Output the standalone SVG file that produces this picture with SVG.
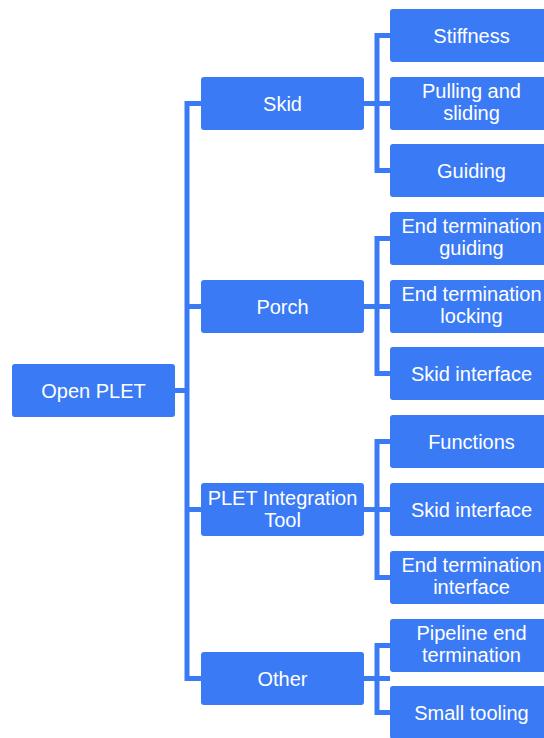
<svg xmlns="http://www.w3.org/2000/svg" width="544" height="738" viewBox="0 0 544 738">
  <style>
    .box { fill: #3b7af5; }
    .lbl { fill: #ffffff; font-family: "Liberation Sans", Arial, sans-serif; font-size: 20px; text-anchor: middle; }
    .wire { fill: none; stroke: #3b7af5; stroke-width: 5; stroke-linejoin: miter; }
  </style>
  <rect width="544" height="738" fill="#ffffff"/>

  <!-- connectors -->
  <g id="connectors" class="wire">
    <!-- trunk from root to the four branches -->
    <path d="M175,390.5 H187"/>
    <path d="M201,103.5 H187 V678.5 H201"/>
    <path d="M187,306.5 H201"/>
    <path d="M187,509.5 H201"/>
    <!-- Skid branch -->
    <path d="M364,103.5 H390"/>
    <path d="M390,35.5 H377 V170.5 H390"/>
    <!-- Porch branch -->
    <path d="M364,306.5 H390"/>
    <path d="M390,238.5 H377 V373.5 H390"/>
    <!-- PLET Integration Tool branch -->
    <path d="M364,509.5 H390"/>
    <path d="M390,441.5 H377 V577.5 H390"/>
    <!-- Other branch -->
    <path d="M364,678.5 H390"/>
    <path d="M390,645.5 H377 V712.5 H390"/>
  </g>

  <!-- root -->
  <g id="open-plet">
    <rect class="box" x="12" y="364" width="163" height="53" rx="3"/>
    <text class="lbl" x="93.5" y="397.5">Open PLET</text>
  </g>

  <!-- second level -->
  <g id="skid">
    <rect class="box" x="201" y="77" width="163" height="53" rx="3"/>
    <text class="lbl" x="282.5" y="110.5">Skid</text>
  </g>
  <g id="porch">
    <rect class="box" x="201" y="280" width="163" height="53" rx="3"/>
    <text class="lbl" x="282.5" y="313.5">Porch</text>
  </g>
  <g id="plet-integration-tool">
    <rect class="box" x="201" y="483" width="163" height="53" rx="3"/>
    <text class="lbl" x="282.5" y="505">PLET Integration</text>
    <text class="lbl" x="282.5" y="527">Tool</text>
  </g>
  <g id="other">
    <rect class="box" x="201" y="652" width="163" height="53" rx="3"/>
    <text class="lbl" x="282.5" y="685.5">Other</text>
  </g>

  <!-- third level -->
  <g id="stiffness">
    <rect class="box" x="390" y="9" width="163" height="53" rx="3"/>
    <text class="lbl" x="471.5" y="42.5">Stiffness</text>
  </g>
  <g id="pulling-sliding">
    <rect class="box" x="390" y="77" width="163" height="53" rx="3"/>
    <text class="lbl" x="471.5" y="98">Pulling and</text>
    <text class="lbl" x="471.5" y="120">sliding</text>
  </g>
  <g id="guiding">
    <rect class="box" x="390" y="144" width="163" height="53" rx="3"/>
    <text class="lbl" x="471.5" y="177.5">Guiding</text>
  </g>
  <g id="end-termination-guiding">
    <rect class="box" x="390" y="212" width="163" height="53" rx="3"/>
    <text class="lbl" x="471.5" y="233">End termination</text>
    <text class="lbl" x="471.5" y="255">guiding</text>
  </g>
  <g id="end-termination-locking">
    <rect class="box" x="390" y="280" width="163" height="53" rx="3"/>
    <text class="lbl" x="471.5" y="301">End termination</text>
    <text class="lbl" x="471.5" y="323">locking</text>
  </g>
  <g id="porch-skid-interface">
    <rect class="box" x="390" y="347" width="163" height="53" rx="3"/>
    <text class="lbl" x="471.5" y="380.5">Skid interface</text>
  </g>
  <g id="functions">
    <rect class="box" x="390" y="415" width="163" height="53" rx="3"/>
    <text class="lbl" x="471.5" y="448.5">Functions</text>
  </g>
  <g id="tool-skid-interface">
    <rect class="box" x="390" y="483" width="163" height="53" rx="3"/>
    <text class="lbl" x="471.5" y="516.5">Skid interface</text>
  </g>
  <g id="end-termination-interface">
    <rect class="box" x="390" y="551" width="163" height="53" rx="3"/>
    <text class="lbl" x="471.5" y="572">End termination</text>
    <text class="lbl" x="471.5" y="594">interface</text>
  </g>
  <g id="pipeline-end-termination">
    <rect class="box" x="390" y="619" width="163" height="53" rx="3"/>
    <text class="lbl" x="471.5" y="640">Pipeline end</text>
    <text class="lbl" x="471.5" y="662">termination</text>
  </g>
  <g id="small-tooling">
    <rect class="box" x="390" y="686" width="163" height="53" rx="3"/>
    <text class="lbl" x="471.5" y="719.5">Small tooling</text>
  </g>
</svg>
